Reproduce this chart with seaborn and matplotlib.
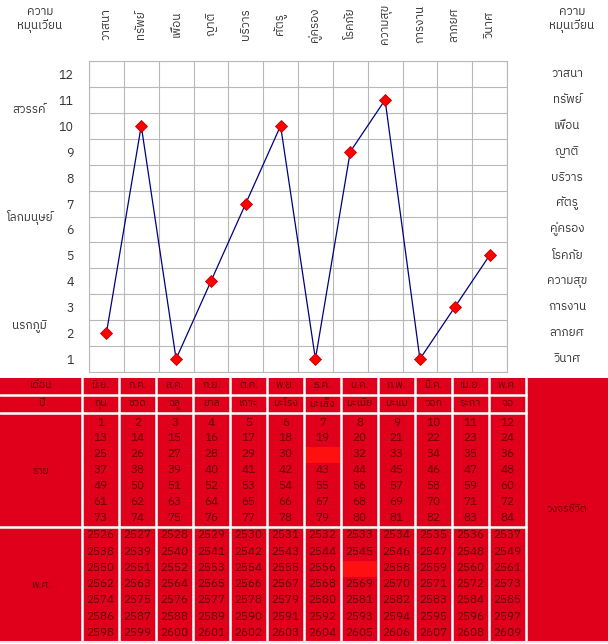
import matplotlib
matplotlib.use('Agg')
import numpy as np
import pandas as pd
import matplotlib.pyplot as plt
from matplotlib import font_manager as fm
from matplotlib.ft2font import FT2Font
from matplotlib.patches import Rectangle
import seaborn as sns

# ข้อมูลกราฟ
aspects = ['วาสนา', 'ทรัพย์', 'เพื่อน', 'ญาติ', 'บริวาร', 'ศัตรู',
           'คู่ครอง', 'โรคภัย', 'ความสุข', 'การงาน', 'ลาภยศ', 'วินาศ']
levels = [2, 10, 1, 4, 7, 10, 1, 9, 11, 1, 3, 5]
level_ticks = [1, 2, 3, 4, 5, 6, 7, 8, 9, 10, 11, 12]
realms = ['สวรรค์', 'โลกมนุษย์', 'นรกภูมิ']
realm_levels = [10.6, 6.5, 2.25]

# ข้อมูลตาราง
months = ['มิ.ย.', 'ก.ค.', 'ส.ค.', 'ก.ย.', 'ต.ค.', 'พ.ย.',
          'ธ.ค.', 'ม.ค.', 'ก.พ.', 'มี.ค.', 'เม.ย.', 'พ.ค.']
years = ['กุน', 'ชวด', 'ฉลู', 'ขาล', 'เถาะ', 'มะโรง',
         'มะเส็ง', 'มะเมีย', 'มะแม', 'วอก', 'ระกา', 'จอ']
ages = [
    [1, 2, 3, 4, 5, 6, 7, 8, 9, 10, 11, 12],
    [13, 14, 15, 16, 17, 18, 19, 20, 21, 22, 23, 24],
    [25, 26, 27, 28, 29, 30, 31, 32, 33, 34, 35, 36],
    [37, 38, 39, 40, 41, 42, 43, 44, 45, 46, 47, 48],
    [49, 50, 51, 52, 53, 54, 55, 56, 57, 58, 59, 60],
    [61, 62, 63, 64, 65, 66, 67, 68, 69, 70, 71, 72],
    [73, 74, 75, 76, 77, 78, 79, 80, 81, 82, 83, 84],
]
be_years = [
    [2526, 2527, 2528, 2529, 2530, 2531, 2532, 2533, 2534, 2535, 2536, 2537],
    [2538, 2539, 2540, 2541, 2542, 2543, 2544, 2545, 2546, 2547, 2548, 2549],
    [2550, 2551, 2552, 2553, 2554, 2555, 2556, 2557, 2558, 2559, 2560, 2561],
    [2562, 2563, 2564, 2565, 2566, 2567, 2568, 2569, 2570, 2571, 2572, 2573],
    [2574, 2575, 2576, 2577, 2578, 2579, 2580, 2581, 2582, 2583, 2584, 2585],
    [2586, 2587, 2588, 2589, 2590, 2591, 2592, 2593, 2594, 2595, 2596, 2597],
    [2598, 2599, 2600, 2601, 2602, 2603, 2604, 2605, 2606, 2607, 2608, 2609],
]
# ช่องที่ถูกไฮไลต์ (แถว, คอลัมน์)
ages_hl = (2, 6)
be_hl = (2, 7)

sns.set_style('white')

# หาฟอนต์ที่มีอักษรไทย
thai_font = None
cands = []
for f in fm.fontManager.ttflist:
    try:
        if 0x0E01 in FT2Font(f.fname).get_charmap():
            cands.append(f)
    except Exception:
        pass
cands.sort(key=lambda f: (f.weight not in (400, 'normal'), 'Sans' not in f.name, 'Thai' not in f.name))
if cands:
    thai_font = cands[0].name
fams = ([thai_font] if thai_font else []) + ['DejaVu Sans']
plt.rcParams['font.family'] = fams

df = pd.DataFrame({'pos': np.arange(1, 13), 'level': levels})

fig = plt.figure(figsize=(6.08, 6.44), dpi=100)
W, H = 608, 644
ax = fig.add_axes([89 / W, 1 - 372 / H, (507 - 89) / W, (372 - 61) / H])

sns.lineplot(data=df, x='pos', y='level', ax=ax, color='#000080', lw=0.9,
             marker='D', markersize=6, markerfacecolor='#ff0000',
             markeredgecolor='#c00000', markeredgewidth=0.6)

ax.set_xlim(0.5, 12.5)
ax.set_ylim(0.5, 12.5)
ax.set_xticks(np.arange(0.5, 13, 1), minor=True)
ax.set_yticks(np.arange(0.5, 13, 1), minor=True)
ax.set_xticks([])
ax.set_yticks(level_ticks)
ax.set_yticklabels([str(v) for v in level_ticks], fontsize=9, color='#333333')
ax.tick_params(which='both', length=0)
ax.tick_params(axis='y', pad=11)
ax.grid(which='minor', color='#b8b8b8', lw=0.8)
ax.set_axisbelow(True)
for s in ax.spines.values():
    s.set_color('#b8b8b8')
    s.set_linewidth(0.8)
ax.set_xlabel('')
ax.set_ylabel('')

# ป้ายด้านบน (หมุน)
xt = ax.get_xaxis_transform()
for i, a in enumerate(aspects):
    ax.text(i + 1, 1.118, a, transform=xt, rotation=90, ha='center', va='center',
            fontsize=8.5, color='#333333')

# ป้ายด้านขวา
yt = ax.get_yaxis_transform()
for v in level_ticks:
    ax.text(1.1435, v, aspects[12 - v], transform=yt, ha='center', va='center',
            fontsize=8.5, color='#333333')

# ป้ายภพภูมิด้านซ้าย
for r, lv in zip(realms, realm_levels):
    ax.text(-0.1435, lv, r, transform=yt, ha='center', va='center',
            fontsize=8.5, color='#333333')

fig.text(40 / W, 1 - 20 / H, 'ความ\nหมุนเวียน', ha='center', va='center',
         fontsize=8.5, color='#333333', linespacing=1.2)
fig.text(572 / W, 1 - 20 / H, 'ความ\nหมุนเวียน', ha='center', va='center',
         fontsize=8.5, color='#333333', linespacing=1.2)

# ตารางด้านล่าง
red = '#e0001b'
hl = '#ff1010'
txt = '#5c0008'
tab = fig.add_axes([0, 0, 1, (H - 376) / H])
tab.set_xlim(0, W)
tab.set_ylim(H, 376)
tab.axis('off')

edges = [0, 82] + [82 + 37 * (i + 1) for i in range(12)] + [W]
rows = [(378, 394), (396, 412), (414, 526), (528, 641)]
tab.add_patch(Rectangle((0, 377.5), W, 641.5 - 377.5, color=red, lw=0))

centers = [(edges[i + 1] + edges[i + 2]) / 2 for i in range(12)]
cw = 37

for (r, c), (y0, y1) in [(ages_hl, rows[2]), (be_hl, rows[3])]:
    step = (y1 - y0) / 7
    tab.add_patch(Rectangle((edges[c + 1] + 1, y0 + 1 + step * r), cw - 2, step,
                            color=hl, lw=0))

for y in [395, 413, 527]:
    tab.plot([0, edges[13]], [y, y], color='white', lw=1.8)
for x in edges[1:14]:
    tab.plot([x, x], [377.5, 641.5], color='white', lw=1.8)
tab.plot([0, W], [641.8, 641.8], color='#e8e8e8', lw=1.5)

fs = 7.5
tab.text(41, 386, 'เดือน', ha='center', va='center', fontsize=fs, color=txt)
tab.text(41, 404, 'ปี', ha='center', va='center', fontsize=fs, color=txt)
tab.text(41, 471, 'ราย', ha='center', va='center', fontsize=fs, color=txt)
tab.text(41, 585, 'พ.ศ.', ha='center', va='center', fontsize=fs, color=txt)
tab.text(567, 510, 'วงจรชีวิต', ha='center', va='center', fontsize=fs, color=txt)

for i in range(12):
    tab.text(centers[i], 386, months[i], ha='center', va='center', fontsize=fs, color=txt)
    tab.text(centers[i], 404, years[i], ha='center', va='center', fontsize=fs, color=txt)
    for r in range(7):
        col = hl if (r, i) == ages_hl else txt
        tab.text(centers[i], 422.5 + 15.9 * r, str(ages[r][i]), ha='center',
                 va='center', fontsize=8.5, color=col)
        col = hl if (r, i) == be_hl else txt
        tab.text(centers[i], 535.5 + 16.2 * r, str(be_years[r][i]), ha='center',
                 va='center', fontsize=8.5, color=col)

fig.savefig('out.png', dpi=100)
